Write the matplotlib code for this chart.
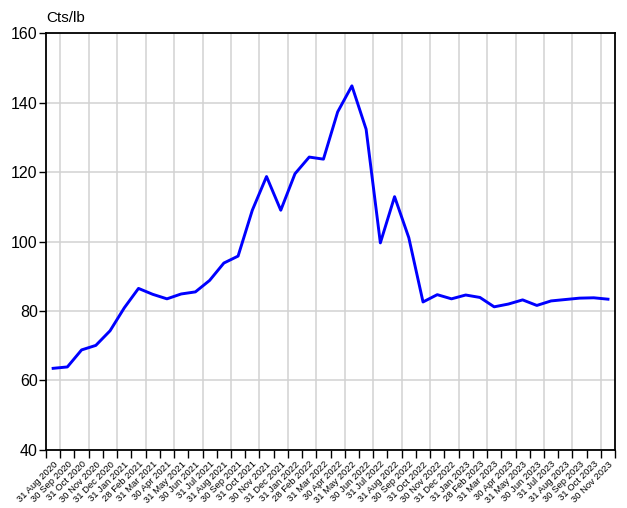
import numpy as np
import pandas as pd
import matplotlib
matplotlib.use('Agg')
import matplotlib.pyplot as plt

plt.rcParams['font.family'] = ['Liberation Sans', 'DejaVu Sans']

# month-end dates, Aug 2020 .. Nov 2023
dates = pd.date_range('2020-08-31', '2023-11-30', freq='ME')
labels = [d.strftime('%d %b %Y') for d in dates]

prices = [63.5, 63.9, 68.8, 70.1, 74.3, 80.9, 86.5, 84.8, 83.5, 84.9,
          85.5, 88.8, 93.8, 95.8, 109.0, 118.7, 109.0, 119.5, 124.3, 123.7,
          137.3, 144.8, 132.3, 99.6, 112.9, 101.1, 82.6, 84.7, 83.5, 84.6,
          83.9, 81.2, 82.0, 83.2, 81.6, 82.9, 83.3, 83.7, 83.8, 83.4]

y_ticks = [40, 60, 80, 100, 120, 140, 160]
unit = 'Cts/lb'


def main():
    fig = plt.figure(figsize=(6.27, 5.08), dpi=100)
    ax = fig.add_axes([0.0734, 0.1142, 0.9076, 0.8208])

    n = len(prices)
    x = np.arange(n) + 0.5

    # grid at every other period boundary + horizontal at y ticks
    for b in range(1, n, 2):
        ax.axvline(b, color='#d2d2d2', lw=1.1, zorder=0)
    for v in y_ticks:
        ax.axhline(v, color='#d2d2d2', lw=1.1, zorder=0)

    ax.plot(x, prices, color='#0000ff', lw=2.1, zorder=3)

    ax.set_xlim(0, n)
    ax.set_ylim(40, 160)
    ax.set_yticks(y_ticks)
    ax.set_yticklabels([str(v) for v in y_ticks], fontsize=11.5)

    ax.set_xticks(np.arange(n + 1))
    ax.set_xticklabels([])
    ax.set_xticks(x, minor=True)
    ax.set_xticklabels(labels, minor=True, rotation=45, ha='right', va='top',
                       rotation_mode='anchor', fontsize=6.8)
    ax.tick_params(axis='x', which='major', length=6, width=1, direction='out', color='black')
    ax.tick_params(axis='x', which='minor', length=0, pad=7)
    ax.tick_params(axis='y', length=5, width=1, pad=1)

    for s in ax.spines.values():
        s.set_linewidth(1.3)
        s.set_color('black')

    fig.text(0.0734, 0.9646, unit, fontsize=11, ha='left', va='center')

    fig.savefig('out.png', dpi=100)


if __name__ == '__main__':
    main()
